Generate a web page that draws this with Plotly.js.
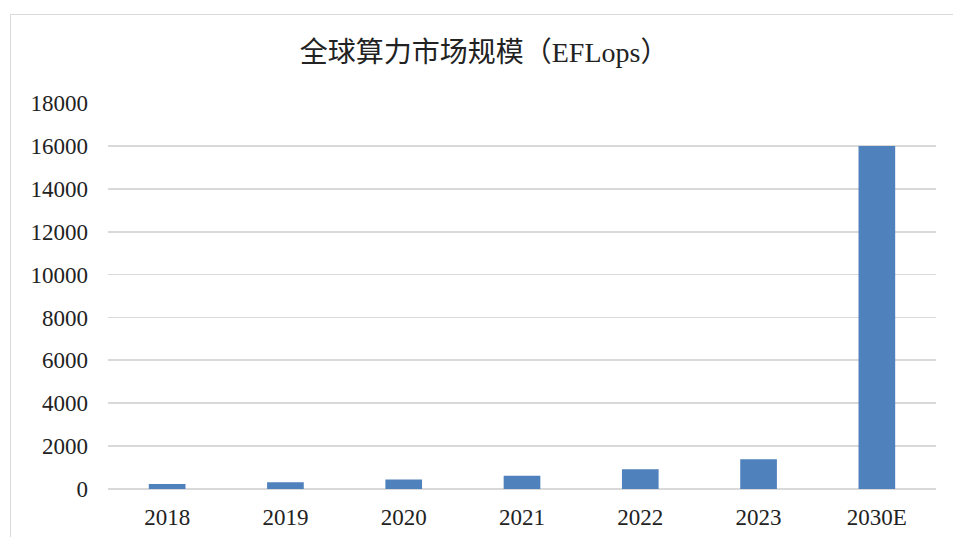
<!DOCTYPE html>
<html>
<head>
<meta charset="utf-8">
<script src="https://cdn.plot.ly/plotly-3.0.1.min.js"></script>
<style>
html,body{margin:0;padding:0;background:#fff;}
#wrap{position:relative;width:953px;height:537px;overflow:hidden;}
#frame{position:absolute;left:10px;top:14px;width:960px;height:540px;border:1px solid #d9d9d9;box-sizing:border-box;pointer-events:none;}
#chart{position:absolute;left:0;top:0;width:953px;height:537px;}
</style>
</head>
<body>
<div id="wrap">
<div id="chart"></div>
<div id="frame"></div>
</div>
<script>
const categories = ["2018", "2019", "2020", "2021", "2022", "2023", "2030E"];
const values = [230, 310, 440, 620, 920, 1390, 16000];
const yTicks = [0, 2000, 4000, 6000, 8000, 10000, 12000, 14000, 16000, 18000];
const titleText = "全球算力市场规模（EFLops）";

const fontFam = "'Liberation Serif', 'Times New Roman', 'Noto Sans CJK SC', serif";

Plotly.newPlot("chart", [{
  type: "bar",
  x: categories,
  y: values,
  marker: {color: "#4f81bd", line: {width: 0}},
  hoverinfo: "x+y"
}], {
  width: 953,
  height: 537,
  margin: {l: 108, r: 17, t: 103, b: 48},
  paper_bgcolor: "#fff",
  plot_bgcolor: "#fff",
  bargap: 0.69,
  showlegend: false,
  title: {
    text: titleText,
    font: {family: fontFam, size: 28, color: "#222"},
    x: 0.508, xanchor: "center",
    y: 0.903, yanchor: "middle"
  },
  xaxis: {
    type: "category",
    showgrid: false,
    zeroline: false,
    showline: false,
    ticks: "",
    ticklabelstandoff: 12,
    tickfont: {family: fontFam, size: 23, color: "#222"}
  },
  yaxis: {
    range: [0, 18000],
    tickvals: yTicks,
    ticktext: yTicks.map(String),
    showgrid: true,
    gridcolor: "#d9d9d9",
    gridwidth: 1.8,
    zeroline: true,
    zerolinecolor: "#d9d9d9",
    zerolinewidth: 1.8,
    showline: false,
    ticks: "",
    ticklabelstandoff: 19,
    tickfont: {family: fontFam, size: 23, color: "#222"}
  }
}, {displayModeBar: false, staticPlot: true});
</script>
</body>
</html>
